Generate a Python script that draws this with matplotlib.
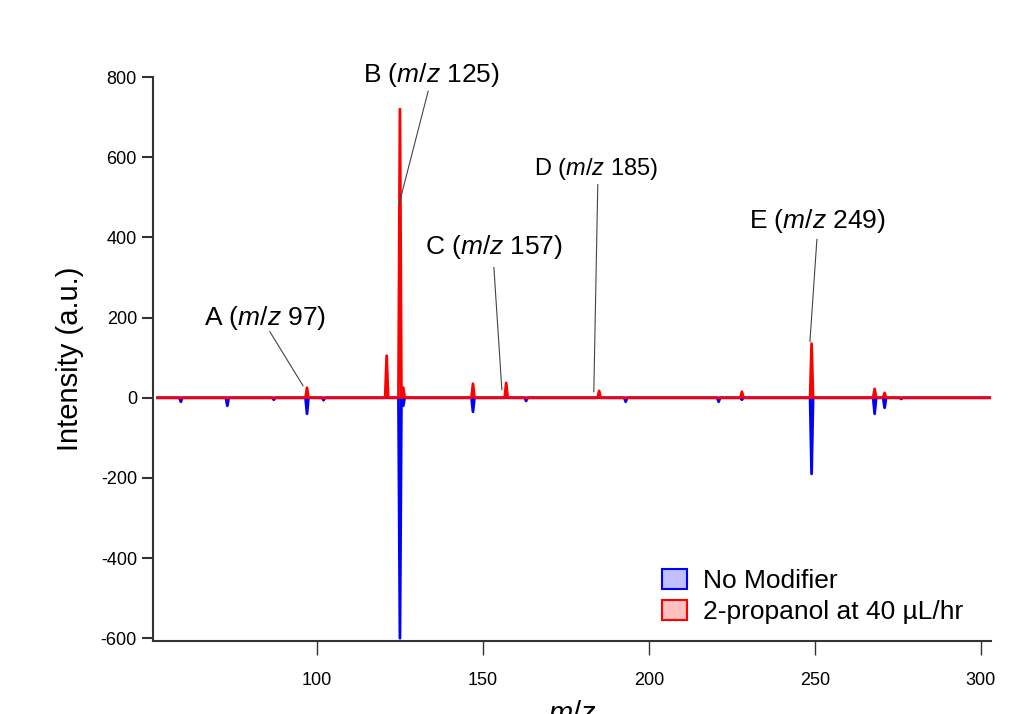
import numpy as np
import matplotlib.pyplot as plt
from matplotlib.patches import Patch

plt.rcParams['font.family'] = ['Liberation Sans', 'DejaVu Sans']
plt.rcParams['mathtext.fontset'] = 'custom'
plt.rcParams['mathtext.rm'] = 'Liberation Sans'
plt.rcParams['mathtext.it'] = 'Liberation Sans:italic'
plt.rcParams['axes.unicode_minus'] = False

# peak lists (m/z, intensity)
mod_mz = [97, 121, 125, 126, 147, 157, 185, 228, 249, 268, 271]
mod_int = [25, 105, 720, 25, 35, 37, 17, 15, 135, 22, 12]

nomod_mz = [59, 73, 87, 97, 102, 125, 126, 147, 163, 193, 221, 228, 249, 268, 271, 276]
nomod_int = [10, 20, 5, 40, 6, 600, 20, 35, 8, 10, 10, 5, 190, 40, 25, 3]

mz_start, mz_end = 52, 303

labels = ['A', 'B', 'C', 'D', 'E']
label_mz = [97, 125, 157, 185, 249]
label_text_xy = [(84.3, 200), (134.5, 805), (153.3, 375), (184.0, 570), (250.9, 442)]
label_line_start = [(85.8, 165), (133.5, 765), (153.3, 325), (184.6, 532), (250.6, 395)]
label_line_end = [(95.8, 30), (124.7, 482), (155.7, 20), (183.4, 15), (248.5, 140)]
label_size = [19, 19, 19, 17, 19]


def spectrum(mz, inten, sign, half_width=0.45):
    xs, ys = [mz_start], [0.0]
    for m, h in sorted(zip(mz, inten)):
        xs += [m - half_width, m, m + half_width]
        ys += [0.0, sign * h, 0.0]
    xs.append(mz_end)
    ys.append(0.0)
    return np.array(xs), np.array(ys)


fig = plt.figure(figsize=(10.09, 7.14), dpi=100)
ax = fig.add_axes([0.1516, 0.1022, 0.8304, 0.7898])

x_no, y_no = spectrum(nomod_mz, nomod_int, -1)
x_mod, y_mod = spectrum(mod_mz, mod_int, 1)

ax.fill_between(x_no, y_no, 0, color='#0000ff', alpha=0.25, lw=0)
ax.plot(x_no, y_no, color='#0000ff', lw=2)
ax.fill_between(x_mod, y_mod, 0, color='#ff0000', alpha=0.25, lw=0)
ax.plot(x_mod, y_mod, color='#ff0000', lw=2)

for lab, m, txy, s, e, fs in zip(labels, label_mz, label_text_xy, label_line_start,
                                 label_line_end, label_size):
    ax.text(txy[0], txy[1], lab + r' ($\mathit{m/z}$ ' + str(m) + ')', fontsize=fs,
            ha='center', va='center')
    ax.plot([s[0], e[0]], [s[1], e[1]], color='#444444', lw=0.8)

ax.set_xlim(50.6, 303)
ax.set_ylim(-607, 800)
ax.set_xticks([100, 150, 200, 250, 300])
ax.set_yticks([-600, -400, -200, 0, 200, 400, 600, 800])
ax.spines['top'].set_visible(False)
ax.spines['right'].set_visible(False)
for sp in ['left', 'bottom']:
    ax.spines[sp].set_color('#333333')
    ax.spines[sp].set_linewidth(1.5)
ax.tick_params(axis='x', length=10, width=1, colors='#333333', labelsize=13,
               labelcolor='black', pad=12)
ax.tick_params(axis='y', length=8, width=1.5, colors='#333333', labelsize=13,
               labelcolor='black')
ax.set_ylabel('Intensity (a.u.)', fontsize=21, labelpad=12)
ax.set_xlabel(r'$\mathit{m/z}$', fontsize=21, labelpad=8)

handles = [Patch(facecolor='#c0c0ff', edgecolor='#0000ff', lw=1.5, label='No Modifier'),
           Patch(facecolor='#ffc0c0', edgecolor='#ff0000', lw=1.5, label='2-propanol at 40 µL/hr')]
ax.legend(handles=handles, loc='lower right', bbox_to_anchor=(0.995, -0.012), frameon=False,
          fontsize=19, handlelength=0.95, handleheight=0.8, handletextpad=0.6,
          labelspacing=0.25)

fig.savefig('out.png', dpi=100)
